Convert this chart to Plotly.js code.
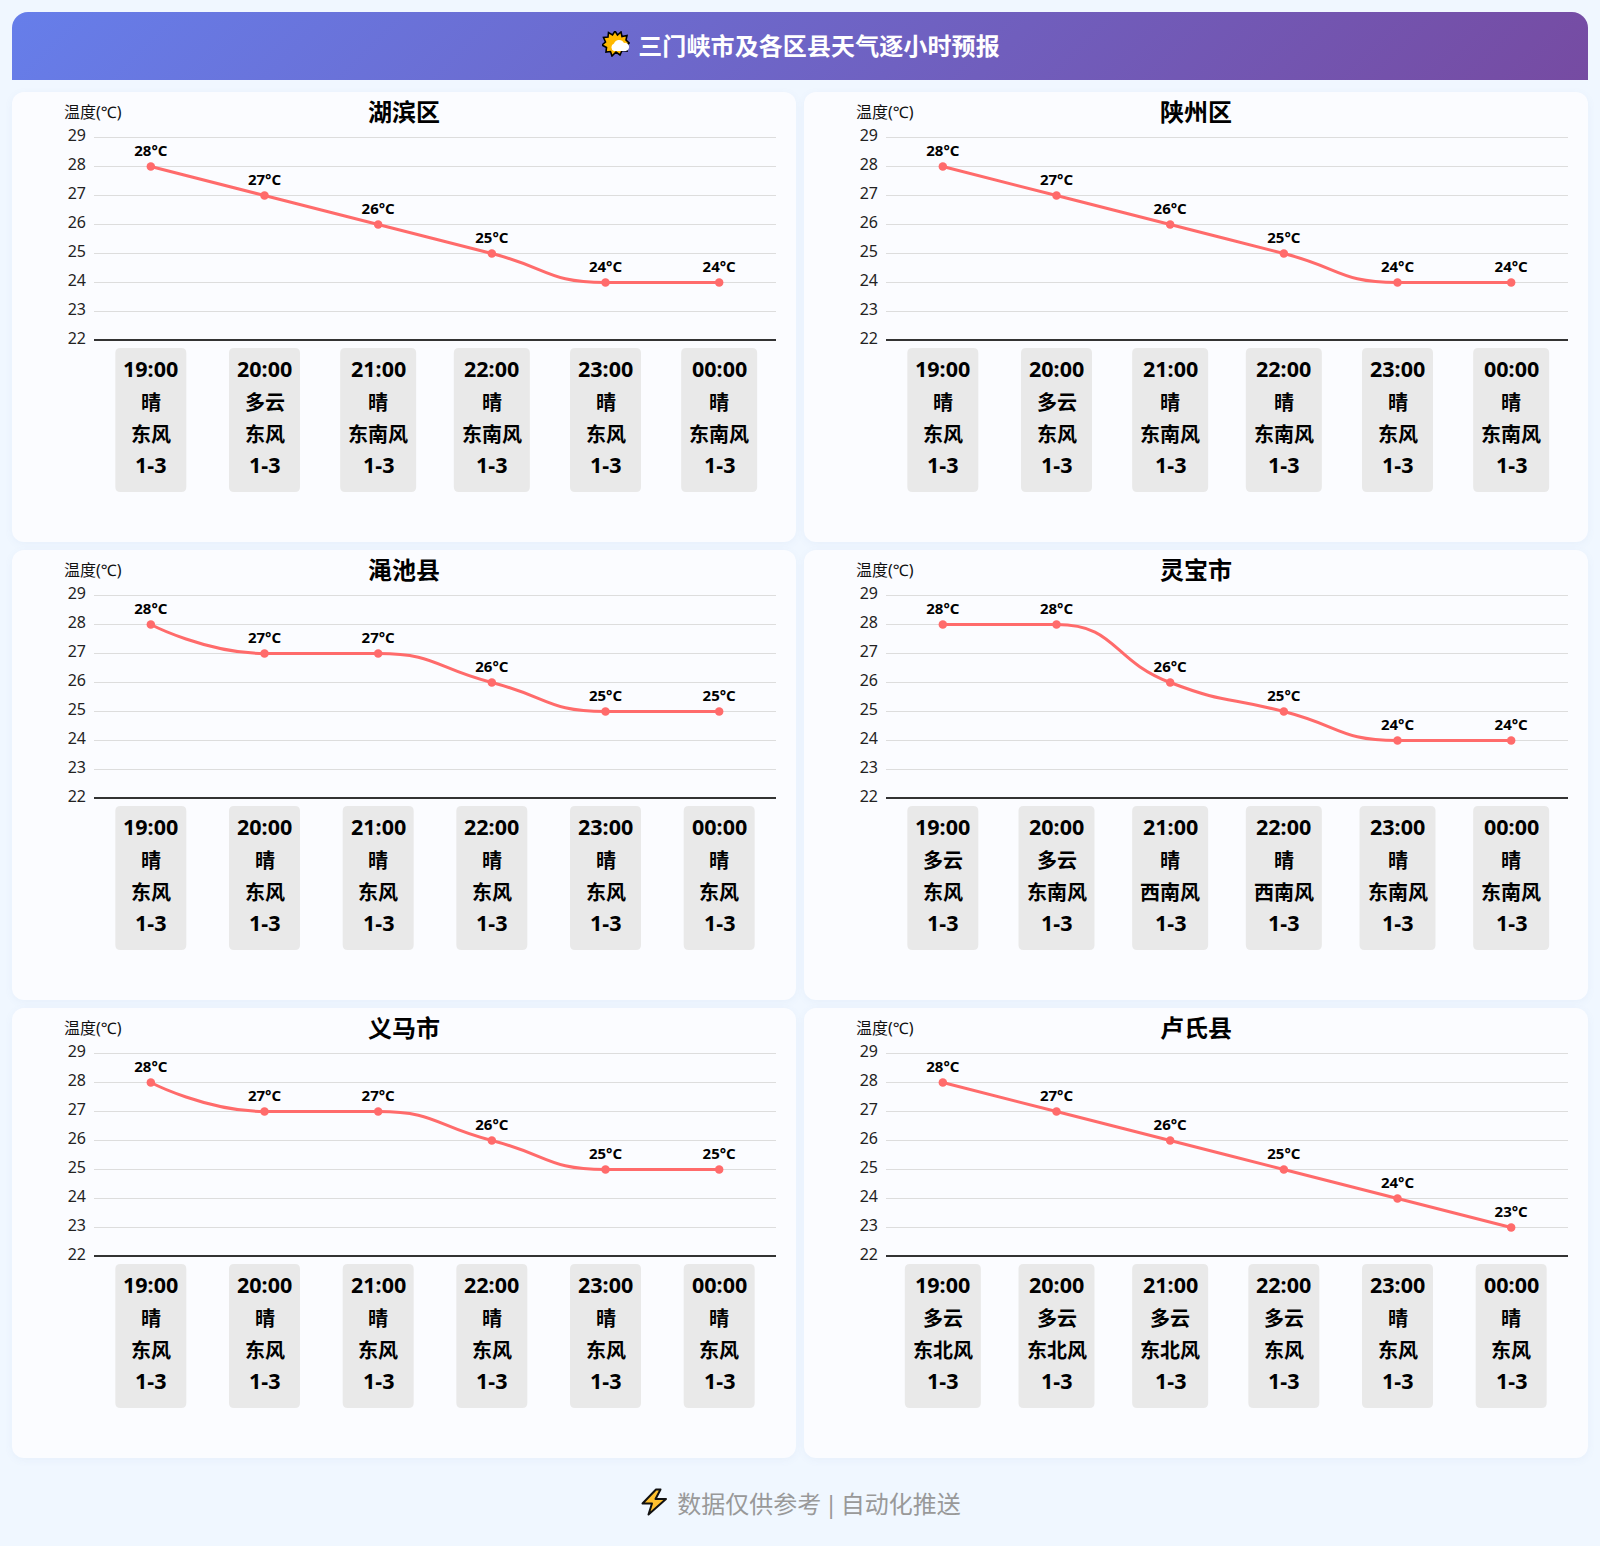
<!DOCTYPE html>
<html lang="zh">
<head>
<meta charset="utf-8">
<title>三门峡市及各区县天气逐小时预报</title>
<script src="https://cdn.plot.ly/plotly-3.0.1.min.js"></script>
<style>
*{box-sizing:border-box}
html,body{margin:0;padding:0;background:#f0f7ff;font-family:"Noto Sans","Noto Sans CJK SC",sans-serif}
body{width:1600px;height:1546px;position:relative;overflow:hidden}
#header{position:absolute;left:12px;top:12px;width:1576px;height:68px;padding-bottom:4px;padding-left:2px;border-radius:16px 16px 0 0;background:linear-gradient(135deg,#667eea,#764ba2);color:#fff;font-size:24px;font-weight:700;letter-spacing:.1px;display:flex;align-items:center;justify-content:center}
#header svg{margin-right:8px}
#grid{position:absolute;left:12px;top:92px;display:grid;grid-template-columns:784px 784px;grid-auto-rows:450px;column-gap:8px;row-gap:8px}
.card{width:784px;height:450px;background:#fbfcff;border-radius:12px;box-shadow:0 2px 8px rgba(90,120,180,.06);overflow:hidden}
.card .ytick{transform:translateY(-2px)}
.card .xlines-above{transform:translateY(-2px)}
#footer{position:absolute;left:0;right:0;top:1483px;height:38px;padding-left:2px;color:#999;font-size:24px;word-spacing:-3px;display:flex;align-items:center;justify-content:center}
#footer svg{margin-right:9px}
</style>
</head>
<body>
<div id="header">
<svg width="28" height="26" viewBox="0 0 28 26"><polygon points="13,0 15.5,4 19,1 20,5.5 25,4.5 24,9 27,12 24,15 25,20 20,19.5 18,24 14,21 10,25 8.500,20.500 4,21 4.500,16.500 0,14 3.500,11 1.500,6.500 6,6 6.500,1.500 10.500,4" fill="#ffb900" stroke="#000" stroke-width="1.6"/><path d="M12 20a4 4 0 0 1 0-7.500a5.500 5.500 0 0 1 10-.5a4 4 0 0 1 2 8z" fill="#fff"/></svg>
<span>三门峡市及各区县天气逐小时预报</span>
</div>
<div id="grid"></div>
<div id="footer">
<svg width="27" height="28" viewBox="0 0 27 28"><path d="M15 1.500L1.500 15.500H11L7.500 26.500L25 11H14.500L19.500 1.500z" fill="#ffc02e" stroke="#111" stroke-width="2" stroke-linejoin="round"/></svg>
<span>数据仅供参考 | 自动化推送</span>
</div>
<script>
const cities = ["湖滨区", "陕州区", "渑池县", "灵宝市", "义马市", "卢氏县"];
const hours = ["19:00", "20:00", "21:00", "22:00", "23:00", "00:00"];
const windLevel = "1-3";
const yTicks = [22, 23, 24, 25, 26, 27, 28, 29];

const tempsHubin = [28, 27, 26, 25, 24, 24];
const tempsShanzhou = [28, 27, 26, 25, 24, 24];
const tempsMianchi = [28, 27, 27, 26, 25, 25];
const tempsLingbao = [28, 28, 26, 25, 24, 24];
const tempsYima = [28, 27, 27, 26, 25, 25];
const tempsLushi = [28, 27, 26, 25, 24, 23];
const temps = [tempsHubin, tempsShanzhou, tempsMianchi, tempsLingbao, tempsYima, tempsLushi];

const weatherHubin = ["晴", "多云", "晴", "晴", "晴", "晴"];
const weatherShanzhou = ["晴", "多云", "晴", "晴", "晴", "晴"];
const weatherMianchi = ["晴", "晴", "晴", "晴", "晴", "晴"];
const weatherLingbao = ["多云", "多云", "晴", "晴", "晴", "晴"];
const weatherYima = ["晴", "晴", "晴", "晴", "晴", "晴"];
const weatherLushi = ["多云", "多云", "多云", "多云", "晴", "晴"];
const weather = [weatherHubin, weatherShanzhou, weatherMianchi, weatherLingbao, weatherYima, weatherLushi];

const windHubin = ["东风", "东风", "东南风", "东南风", "东风", "东南风"];
const windShanzhou = ["东风", "东风", "东南风", "东南风", "东风", "东南风"];
const windMianchi = ["东风", "东风", "东风", "东风", "东风", "东风"];
const windLingbao = ["东风", "东南风", "西南风", "西南风", "东南风", "东南风"];
const windYima = ["东风", "东风", "东风", "东风", "东风", "东风"];
const windLushi = ["东北风", "东北风", "东北风", "东风", "东风", "东风"];
const wind = [windHubin, windShanzhou, windMianchi, windLingbao, windYima, windLushi];

const FONT = '"Noto Sans","Noto Sans CJK SC",sans-serif';
const UX = 113.67, UY = 29;   // pixels per data unit, used only for the curve's segment ratios

// Monotone-clamped bezier through the readings, in data coordinates.
function smoothPath(ys) {
  const pts = ys.map((y, i) => [i * UX, y * UY]);
  const clamp = (v, a, b) => Math.min(Math.max(v, Math.min(a, b)), Math.max(a, b));
  const n = pts.length, ctrlIn = [], ctrlOut = [];
  for (let i = 0; i < n; i++) {
    const p = pts[i];
    if (i === 0 || i === n - 1) { ctrlIn[i] = p; ctrlOut[i] = p; continue; }
    const a = pts[i - 1], b = pts[i + 1];
    const la = Math.hypot(p[0] - a[0], p[1] - a[1]), lb = Math.hypot(b[0] - p[0], b[1] - p[1]);
    const r = lb / (la + lb);
    let ox = clamp(p[0] + (b[0] - a[0]) * 0.5 * r, p[0], b[0]);
    let oy = clamp(p[1] + (b[1] - a[1]) * 0.5 * r, p[1], b[1]);
    let ix = clamp(p[0] - (ox - p[0]) * la / lb, a[0], p[0]);
    let iy = clamp(p[1] - (oy - p[1]) * la / lb, a[1], p[1]);
    ox = p[0] + (p[0] - ix) * lb / la;
    oy = p[1] + (p[1] - iy) * lb / la;
    ctrlIn[i] = [ix, iy]; ctrlOut[i] = [ox, oy];
  }
  const f = q => (q[0] / UX).toFixed(4) + "," + (q[1] / UY).toFixed(4);
  let d = "M" + f(pts[0]);
  for (let i = 1; i < n; i++) d += " C" + f(ctrlOut[i - 1]) + " " + f(ctrlIn[i]) + " " + f(pts[i]);
  return d;
}

function boxPath(w, top, h, r) {
  const l = -w / 2, R = w / 2, t = -top, b = -(top + h);
  return `M${l + r},${t} L${R - r},${t} Q${R},${t} ${R},${t - r} L${R},${b + r} Q${R},${b} ${R - r},${b} L${l + r},${b} Q${l},${b} ${l},${b + r} L${l},${t - r} Q${l},${t} ${l + r},${t} Z`;
}

const grid = document.getElementById("grid");
cities.forEach((city, c) => {
  const el = document.createElement("div");
  el.className = "card";
  grid.appendChild(el);
  const xs = hours.map((_, i) => i);
  const shapes = [], annotations = [];
  hours.forEach((h, i) => {
    const w = (wind[c][i].length > 2) ? 76 : 71;
    shapes.push({type: "path", xref: "x", yref: "paper", xsizemode: "pixel", ysizemode: "pixel",
      xanchor: i, yanchor: 0, path: boxPath(w, 7, 144, 5), fillcolor: "#e9e9e9", line: {width: 0}, layer: "below"});
    const rows = [h, weather[c][i], wind[c][i], windLevel];
    const offs = [-27, -61, -93, -123];
    const sizes = [21.5, 20, 20, 21.5];
    rows.forEach((t, k) => annotations.push({xref: "x", yref: "paper", x: i, y: 0, yshift: offs[k],
      text: "<b>" + t + "</b>", showarrow: false, xanchor: "center", yanchor: "middle",
      font: {family: FONT, size: sizes[k], color: "#000"}}));
  });
  shapes.push({type: "path", xref: "x", yref: "y", path: smoothPath(temps[c]),
    line: {color: "#ff6b6b", width: 3}, fillcolor: "rgba(0,0,0,0)", layer: "above"});
  annotations.push({xref: "paper", yref: "paper", x: 0, y: 1, xshift: -32, yshift: 22,
    xanchor: "left", yanchor: "middle", showarrow: false, text: "温度(℃)",
    font: {family: FONT, size: 16, color: "#111"}});
  const trace = {
    x: xs, y: temps[c], type: "scatter", mode: "markers+text",
    marker: {color: "#ff6b6b", size: 8.5},
    text: temps[c].map(t => "<b>" + t + "°C</b>"), textposition: "top center",
    textfont: {family: FONT, size: 15, color: "#000"}, cliponaxis: false, hoverinfo: "skip"
  };
  const layout = {
    width: 784, height: 450, paper_bgcolor: "rgba(0,0,0,0)", plot_bgcolor: "rgba(0,0,0,0)",
    margin: {l: 82, r: 20, t: 42, b: 201}, showlegend: false, font: {family: FONT},
    title: {text: "<b>" + city + "</b>", x: 0.5, xref: "container", xanchor: "center", y: 1 - 21 / 450, yref: "container", yanchor: "middle",
      font: {family: FONT, size: 24, color: "#000"}},
    xaxis: {range: [-0.5, 5.5], showgrid: false, zeroline: false, showticklabels: false, ticks: "",
      showline: true, linecolor: "#333", linewidth: 2, fixedrange: true},
    yaxis: {range: [21.983, 29.121], tickvals: yTicks, showgrid: true, gridcolor: "#dddddd", gridwidth: 1, zeroline: false,
      ticks: "", showline: false, ticklabelstandoff: 7, tickfont: {family: FONT, size: 16, color: "#222"}, fixedrange: true},
    shapes, annotations, hovermode: false
  };
  Plotly.newPlot(el, [trace], layout, {displayModeBar: false, staticPlot: true});
});
</script>
</body>
</html>
